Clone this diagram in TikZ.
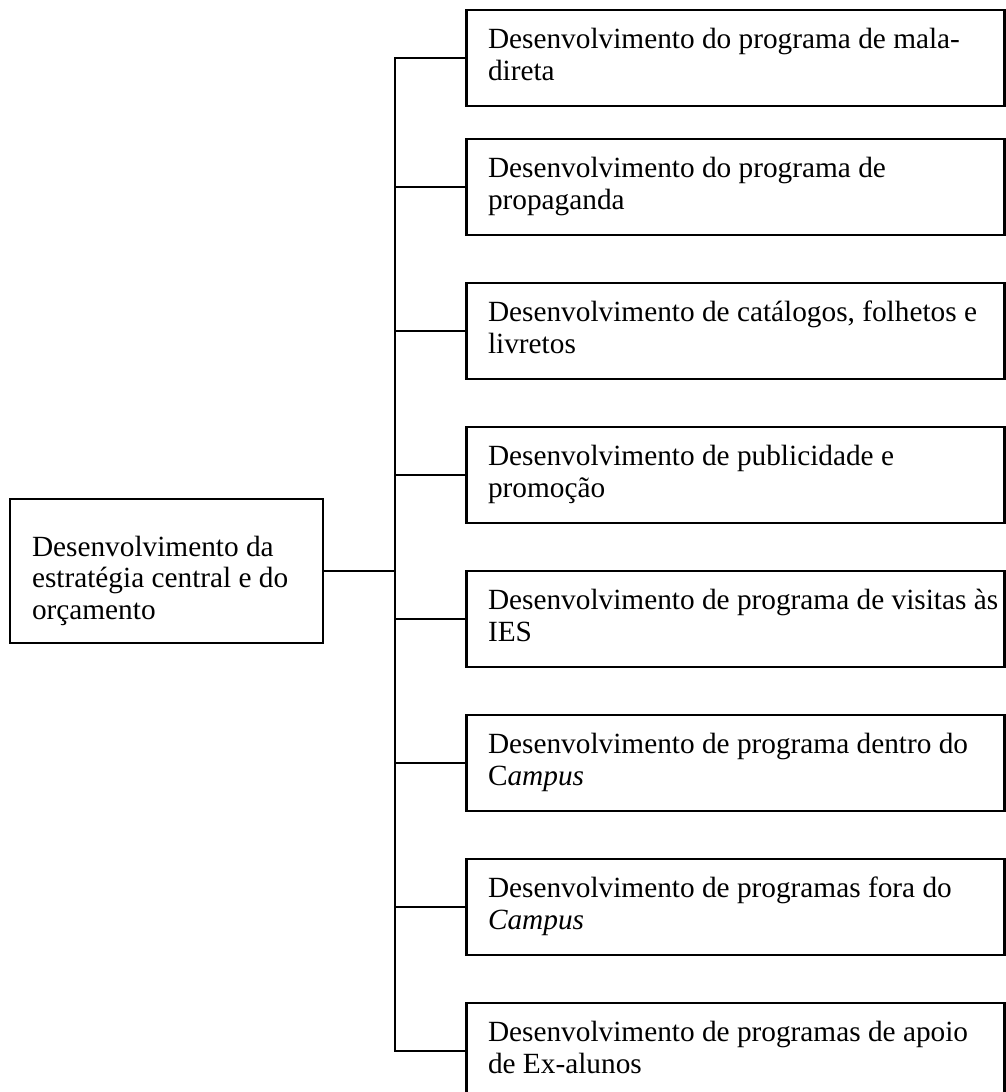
\documentclass[tikz,border=0pt]{standalone}
\usepackage{fontspec}
\setmainfont{Liberation Serif}
\usetikzlibrary{calc}
\begin{document}
\begin{tikzpicture}[x=1pt,y=-1pt,
  every node/.style={inner sep=0pt, outer sep=0pt},
  rootbox/.style={draw, line width=2.3pt, minimum width=313pt, minimum height=144pt},
  itembox/.style={draw, line width=2.3pt, minimum width=538pt, minimum height=96pt},
  boxlabel/.style={anchor=base west, font=\fontsize{29.3}{32.5}\selectfont},
  link/.style={line width=2.3pt, line cap=rect}]
  % page frame
  \clip (0,0) rectangle (1006,1092);

  % central node
  \node[rootbox] (root) at (166.5,571) {};
  \node[boxlabel, font=\fontsize{29.3}{31.5}\selectfont] (troot) at ($(root.north west)+(22,57)$)
    {\begin{tabular}[t]{@{}l@{}}Desenvolvimento da\\estratégia central e do\\orçamento\end{tabular}};

  % work packages
  \node[itembox] (b1) at (735.5,58) {};
  \node[itembox] (b2) at (735.5,187) {};
  \node[itembox] (b3) at (735.5,331) {};
  \node[itembox] (b4) at (735.5,475) {};
  \node[itembox] (b5) at (735.5,619) {};
  \node[itembox] (b6) at (735.5,763) {};
  \node[itembox] (b7) at (735.5,907) {};
  \node[itembox] (b8) at (735.5,1051) {};

  \node[boxlabel] (t1) at ($(b1.north west)+(21.5,38)$)
    {\begin{tabular}[t]{@{}l@{}}Desenvolvimento do programa de mala-\\direta\end{tabular}};
  \node[boxlabel] (t2) at ($(b2.north west)+(21.5,38)$)
    {\begin{tabular}[t]{@{}l@{}}Desenvolvimento do programa de\\propaganda\end{tabular}};
  \node[boxlabel] (t3) at ($(b3.north west)+(21.5,38)$)
    {\begin{tabular}[t]{@{}l@{}}Desenvolvimento de catálogos, folhetos e\\livretos\end{tabular}};
  \node[boxlabel] (t4) at ($(b4.north west)+(21.5,38)$)
    {\begin{tabular}[t]{@{}l@{}}Desenvolvimento de publicidade e\\promoção\end{tabular}};
  \node[boxlabel] (t5) at ($(b5.north west)+(21.5,38)$)
    {\begin{tabular}[t]{@{}l@{}}Desenvolvimento de programa de visitas às\\IES\end{tabular}};
  \node[boxlabel] (t6) at ($(b6.north west)+(21.5,38)$)
    {\begin{tabular}[t]{@{}l@{}}Desenvolvimento de programa dentro do\\C\textit{ampus}\end{tabular}};
  \node[boxlabel] (t7) at ($(b7.north west)+(21.5,38)$)
    {\begin{tabular}[t]{@{}l@{}}Desenvolvimento de programas fora do\\\textit{Campus}\end{tabular}};
  \node[boxlabel] (t8) at ($(b8.north west)+(21.5,38)$)
    {\begin{tabular}[t]{@{}l@{}}Desenvolvimento de programas de apoio\\de Ex-alunos\end{tabular}};

  % connectors
  \coordinate (trunk) at (395,571);
  \draw[link] (root.east) -- (trunk);
  \draw[link] (trunk |- b1.west) -- (trunk |- b8.west);
  \foreach \k in {1,...,8}
    \draw[link] (trunk |- b\k.west) -- (b\k.west);
\end{tikzpicture}
\end{document}
